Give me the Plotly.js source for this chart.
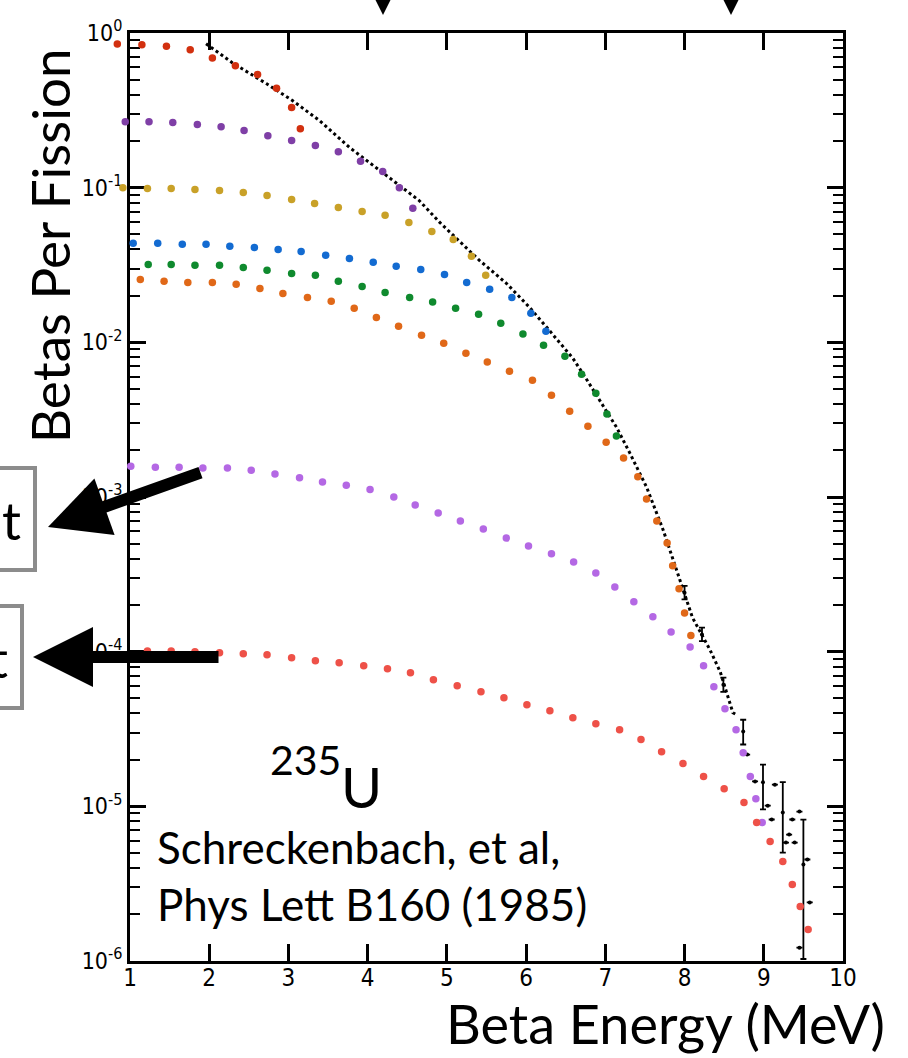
<!DOCTYPE html>
<html><head><meta charset="utf-8">
<script src="https://cdn.plot.ly/plotly-3.0.1.min.js"></script>
<style>html,body{margin:0;padding:0;background:#fff;} #chart{width:908px;height:1058px;}</style>
</head><body><div id="chart"></div>
<script>
// ---- data (Beta energy in MeV, betas per fission) ----
const redX = [0.84,1.15,1.46,1.76,2.04,2.33,2.61,2.85,3.04,3.15];
const redY = [0.85,0.84,0.82,0.78,0.69,0.615,0.54,0.44,0.33,0.24];

const purpleX = [0.94,1.24,1.54,1.85,2.15,2.44,2.74,3.04,3.34,3.63,3.91,4.19,4.40,4.57];
const purpleY = [0.267,0.267,0.264,0.256,0.248,0.234,0.217,0.202,0.187,0.171,0.148,0.127,0.100,0.0735];

const goldX = [0.91,1.22,1.52,1.82,2.13,2.43,2.73,3.04,3.33,3.63,3.93,4.22,4.52,4.81,5.08,5.31,5.49];
const goldY = [0.100,0.0989,0.0989,0.0973,0.0959,0.0931,0.0891,0.0839,0.0791,0.0745,0.0701,0.0662,0.0596,0.0521,0.0462,0.0360,0.0271];

const blueX = [1.04,1.35,1.66,1.96,2.26,2.57,2.87,3.16,3.47,3.77,4.07,4.36,4.67,4.97,5.25,5.54,5.82,6.06,6.25];
const blueY = [0.0437,0.0437,0.0431,0.0431,0.0418,0.0411,0.0399,0.0387,0.0365,0.0349,0.0329,0.0310,0.0296,0.0275,0.0244,0.0220,0.0195,0.0154,0.0118];

const greenX = [1.23,1.52,1.82,2.13,2.43,2.73,3.04,3.34,3.63,3.93,4.22,4.53,4.82,5.11,5.40,5.68,5.96,6.22,6.49,6.70,6.88,7.02,7.14];
const greenY = [0.0319,0.0319,0.0315,0.0315,0.0305,0.0292,0.0279,0.0271,0.0248,0.0230,0.0210,0.0195,0.0182,0.0166,0.0152,0.0133,0.0113,0.00957,0.00813,0.00622,0.00469,0.00344,0.00248];

const orangeX = [1.13,1.43,1.73,2.04,2.34,2.64,2.93,3.24,3.54,3.83,4.11,4.39,4.68,4.96,5.24,5.51,5.79,6.08,6.32,6.55,6.78,7.01,7.23,7.41,7.52,7.65,7.78,7.85,7.93,8.00,8.08];
const orangeY = [0.0255,0.0248,0.0244,0.0244,0.0237,0.0223,0.0207,0.0195,0.0184,0.0166,0.0145,0.0127,0.0111,0.00986,0.00851,0.00745,0.00650,0.00569,0.00455,0.00359,0.00287,0.00226,0.00179,0.00135,0.00097,0.00070,0.000505,0.000359,0.000255,0.000178,0.000127];

const lilacX = [1.01,1.32,1.62,1.92,2.23,2.53,2.83,3.14,3.43,3.73,4.03,4.33,4.60,4.89,5.17,5.46,5.75,6.03,6.32,6.60,6.88,7.12,7.36,7.60,7.83,8.07,8.24,8.37,8.51,8.65,8.74,8.83,8.90,8.98];
const lilacY = [0.00158,0.00156,0.00156,0.00154,0.00154,0.00149,0.00141,0.00133,0.00125,0.00119,0.00112,0.00100,0.000887,0.000787,0.000700,0.000621,0.000543,0.000482,0.000429,0.000380,0.000323,0.000262,0.000210,0.000168,0.000134,0.000107,8.11e-5,5.93e-5,4.28e-5,3.13e-5,2.22e-5,1.56e-5,1.12e-5,7.85e-6];

const salmonX = [1.22,1.52,1.82,2.13,2.43,2.73,3.04,3.34,3.64,3.95,4.25,4.54,4.83,5.13,5.43,5.72,6.01,6.30,6.59,6.88,7.18,7.45,7.71,7.98,8.24,8.50,8.75,8.91,9.08,9.24,9.36,9.46,9.56];
const salmonY = [1.01e-4,1.01e-4,9.98e-5,9.84e-5,9.70e-5,9.55e-5,9.14e-5,8.73e-5,8.47e-5,8.11e-5,7.74e-5,7.30e-5,6.58e-5,6.03e-5,5.51e-5,5.04e-5,4.54e-5,4.15e-5,3.74e-5,3.42e-5,3.13e-5,2.70e-5,2.25e-5,1.89e-5,1.56e-5,1.30e-5,1.06e-5,7.85e-6,5.92e-6,4.40e-6,3.12e-6,2.25e-6,1.60e-6];

// measured spectrum (dotted curve) and its high-energy tail with error bars
const specX = [1.96,2.29,2.72,3.05,3.39,3.77,4.19,4.65,4.91,5.12,5.41,5.75,6.04,6.26,6.59,6.77,6.93,7.14,7.31,7.52,7.73,7.94,8.10,8.32,8.45,8.61,8.66];
const specY = [0.853,0.643,0.471,0.366,0.272,0.182,0.125,0.0826,0.0596,0.0470,0.0339,0.0241,0.0169,0.0125,0.00789,0.00569,0.00423,0.00283,0.00192,0.00116,0.000612,0.000291,0.000166,0.000103,7.41e-5,4.03e-5,3.9e-5];
const tailX = [8.00,8.22,8.49,8.74,8.79,8.89,8.99,9.05,9.10,9.14,9.24,9.28,9.32,9.36,9.39,9.45,9.50,9.55,9.58,9.45];
const tailY = [2.4e-4,1.29e-4,6.1e-5,3.05e-5,2.16e-5,1.45e-5,1.43e-5,1.01e-5,8.22e-6,1.38e-5,9.12e-6,5.83e-6,6.57e-6,8.22e-6,5.83e-6,9.25e-6,4.21e-6,4.53e-6,2.39e-6,1.22e-6];
const tailErrUp = [2.6e-5,1.4e-5,7e-6,5.8e-6,0,0,4.3e-6,0,0,0,5.2e-6,0,0,0,0,0,4.0e-6,0,0,0];
const tailErrDown = [2.2e-5,1.2e-5,6e-6,5.4e-6,0,0,4.75e-6,0,0,0,4.1e-6,0,0,0,0,0,3.18e-6,0,0,0];

const yTickVals = [1,0.1,0.01,0.001,1e-4,1e-5,1e-6];
const yTickText = ['10<sup>0</sup>','10<sup>-1</sup>','10<sup>-2</sup>','10<sup>-3</sup>','10<sup>-4</sup>','10<sup>-5</sup>','10<sup>-6</sup>'];

// ---- build ----
const minorVals = [];
for (let e = -6; e < 0; e++) for (let d = 2; d <= 9; d++) minorVals.push(d * Math.pow(10, e));

// geometry (pixels)
const PL = 100, PR = 843, PT = 33, PB = 961;   // overall plot region
const AX0 = 130;                               // pixel where the framed axes start (x = 1 MeV)
const pxPerMeV = (PR - AX0) / 9;
const x2min = 1 - (AX0 - PL) / pxPerMeV;       // wider helper axis so dots left of x=1 stay visible
const px = v => (v - PL) / (PR - PL);
const py = v => (PB - v) / (PB - PT);

function dots(x, y, color) {
  return {type:'scatter', mode:'markers', x:x, y:y, xaxis:'x2', yaxis:'y2', showlegend:false,
          hoverinfo:'skip', marker:{color:color, size:7.5, line:{width:0}}};
}

const traces = [
  {type:'scatter', mode:'lines', x:specX, y:specY, showlegend:false, hoverinfo:'skip',
   line:{color:'#000', width:3, dash:'dot'}},
  {type:'scatter', mode:'markers', x:tailX, y:tailY, showlegend:false, hoverinfo:'skip',
   marker:{color:'#000', size:4},
   error_y:{type:'data', symmetric:false, array:tailErrUp, arrayminus:tailErrDown, color:'#000', thickness:1.8, width:3}},
  dots(redX, redY, '#d2300f'),
  dots(purpleX, purpleY, '#7f3fa6'),
  dots(goldX, goldY, '#c9a128'),
  dots(blueX, blueY, '#136bd1'),
  dots(greenX, greenY, '#0f8a2e'),
  dots(orangeX, orangeY, '#e06818'),
  dots(lilacX, lilacY, '#b468e4'),
  dots(salmonX, salmonY, '#ee5148')
];

const titleFont = {family:'Lato, "Open Sans", sans-serif', color:'#000'};
const tickFamily = '"Liberation Sans Narrow", "DejaVu Sans Condensed", sans-serif';

const layout = {
  width:908, height:1058,
  margin:{l:PL, r:908-PR, t:PT, b:1058-PB, pad:0},
  paper_bgcolor:'#fff', plot_bgcolor:'rgba(0,0,0,0)',
  showlegend:false,
  xaxis:{domain:[(AX0-PL)/(PR-PL), 1], range:[1,10], tickmode:'linear', tick0:1, dtick:1,
         ticks:'inside', ticklen:17, tickwidth:3, tickcolor:'#000', showline:true, linewidth:3,
         linecolor:'#000', mirror:'allticks', showgrid:false, zeroline:false, ticklabelstandoff:-7,
         tickfont:{family:tickFamily, size:24, color:'#000'}},
  yaxis:{type:'log', range:[-6,0], tickmode:'array', tickvals:yTickVals, ticktext:yTickText,
         ticks:'inside', ticklen:16, tickwidth:3, tickcolor:'#000', showline:true, linewidth:3,
         linecolor:'#000', mirror:'allticks', showgrid:false, zeroline:false,
         tickfont:{family:tickFamily, size:23, color:'#000'},
         minor:{tickmode:'array', tickvals:minorVals, ticks:'inside', ticklen:10, tickwidth:2, tickcolor:'#000', showgrid:false}},
  xaxis2:{domain:[0,1], range:[x2min,10], anchor:'y2', visible:false, showgrid:false, zeroline:false},
  yaxis2:{type:'log', range:[-6,0], domain:[0,1], anchor:'x2', visible:false, showgrid:false, zeroline:false},
  shapes:[
    {type:'path', xref:'paper', yref:'paper', path:`M ${px(374)},${py(-3)} L ${px(392)},${py(-3)} L ${px(383)},${py(15)} Z`, fillcolor:'#000', line:{width:0}},
    {type:'path', xref:'paper', yref:'paper', path:`M ${px(722)},${py(-3)} L ${px(740)},${py(-3)} L ${px(731)},${py(15)} Z`, fillcolor:'#000', line:{width:0}}
  ],
  annotations:[
    {xref:'paper', yref:'paper', x:px(49), y:py(246), xanchor:'center', yanchor:'middle', textangle:-90,
     text:'Betas Per Fission', showarrow:false, font:Object.assign({size:53}, titleFont)},
    {xref:'paper', yref:'paper', x:px(887), y:py(1024), xanchor:'right', yanchor:'middle',
     text:'Beta Energy (MeV)', showarrow:false, font:Object.assign({size:54}, titleFont)},
    {xref:'paper', yref:'paper', x:px(268), y:py(759), xanchor:'left', yanchor:'middle',
     text:'235', showarrow:false, font:Object.assign({size:41}, titleFont)},
    {xref:'paper', yref:'paper', x:px(339), y:py(786), xanchor:'left', yanchor:'middle',
     text:'U', showarrow:false, font:Object.assign({size:56}, titleFont)},
    {xref:'paper', yref:'paper', x:px(155), y:py(875), xanchor:'left', yanchor:'middle', align:'left',
     text:'Schreckenbach, et al,<br>Phys Lett B160 (1985)', showarrow:false, font:Object.assign({size:44}, titleFont)},
    {xref:'paper', yref:'paper', x:px(37), y:py(519), xanchor:'right', yanchor:'middle', align:'right',
     text:'t', showarrow:false, width:200, height:74, borderwidth:4, borderpad:12, bordercolor:'#8c8c8c',
     bgcolor:'rgba(0,0,0,0)', font:Object.assign({size:53}, titleFont)},
    {xref:'paper', yref:'paper', x:px(24), y:py(657), xanchor:'right', yanchor:'middle', align:'right',
     text:'t', showarrow:false, width:200, height:74, borderwidth:4, borderpad:12, bordercolor:'#8c8c8c',
     bgcolor:'rgba(0,0,0,0)', font:Object.assign({size:53}, titleFont)},
    {xref:'paper', yref:'paper', x:px(48), y:py(527), ax:154, ay:-55, text:'', showarrow:true,
     arrowhead:2, arrowsize:1, arrowwidth:12, arrowcolor:'#000'},
    {xref:'paper', yref:'paper', x:px(33), y:py(657), ax:187, ay:0, text:'', showarrow:true,
     arrowhead:2, arrowsize:1, arrowwidth:12, arrowcolor:'#000'}
  ]
};

Plotly.newPlot('chart', traces, layout, {displayModeBar:false, staticPlot:true});
</script></body></html>
